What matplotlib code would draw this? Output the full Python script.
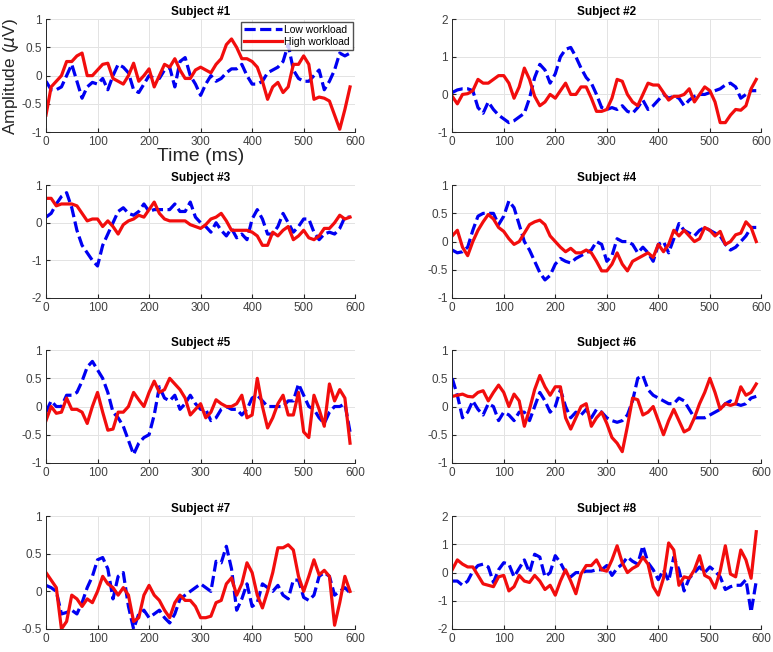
import matplotlib.pyplot as plt
import numpy as np

plt.rcParams['font.family'] = ['Liberation Sans', 'DejaVu Sans']

t = np.arange(0, 600, 10)

subjects = ['Subject #1', 'Subject #2', 'Subject #3', 'Subject #4',
            'Subject #5', 'Subject #6', 'Subject #7', 'Subject #8']

low = [
    [-0.1, -0.25, -0.25, -0.2, 0.0, 0.2, -0.1, -0.4, -0.2, -0.12, -0.15, -0.05, -0.25, 0.0, 0.2, 0.15, 0.05, -0.25, -0.3, -0.15,
     0.0, -0.05, -0.05, 0.1, 0.15, -0.2, 0.25, 0.32, 0.0, -0.15, -0.35, -0.15, 0.0, -0.1, -0.05, 0.05, 0.12, 0.12, 0.2, 0.0,
     -0.15, -0.15, -0.1, 0.05, 0.1, 0.15, 0.25, 0.55, 0.1, -0.05, -0.1, -0.1, 0.0, 0.1, -0.25, -0.1, 0.1, 0.4, 0.35, 0.4],
    [0.05, 0.12, 0.15, 0.15, 0.1, -0.35, -0.5, -0.2, -0.4, -0.55, -0.65, -0.75, -0.7, -0.6, -0.5, -0.1, 0.45, 0.8, 0.65, 0.3,
     0.55, 1.0, 1.2, 1.25, 1.0, 0.7, 0.45, 0.3, 0.0, -0.35, -0.4, -0.35, -0.4, -0.3, -0.45, -0.5, -0.35, -0.15, -0.4, -0.3,
     -0.15, 0.0, -0.1, -0.05, -0.1, -0.3, -0.15, -0.05, 0.0, 0.0, 0.05, 0.1, 0.15, 0.25, 0.3, 0.2, -0.1, 0.0, 0.1, 0.1],
    [0.15, 0.25, 0.5, 0.7, 0.8, 0.4, -0.2, -0.6, -0.8, -1.0, -1.15, -0.6, -0.3, 0.0, 0.3, 0.4, 0.25, 0.2, 0.3, 0.5,
     0.3, 0.35, 0.35, 0.35, 0.35, 0.5, 0.3, 0.3, 0.55, 0.15, 0.0, -0.1, -0.25, 0.0, -0.2, -0.35, -0.15, -0.4, -0.3, -0.45,
     0.1, 0.35, 0.1, -0.3, -0.3, -0.1, 0.25, 0.0, -0.25, -0.1, 0.1, 0.1, -0.25, -0.45, -0.3, -0.25, -0.3, -0.15, 0.15, 0.15],
    [-0.15, -0.2, -0.18, -0.1, 0.2, 0.45, 0.5, 0.5, 0.5, 0.3, 0.45, 0.72, 0.6, 0.3, 0.0, -0.15, -0.35, -0.55, -0.68, -0.6,
     -0.4, -0.3, -0.35, -0.38, -0.3, -0.25, -0.2, -0.15, 0.0, -0.05, -0.35, -0.25, 0.05, 0.0, 0.0, -0.05, -0.2, -0.1, -0.2, -0.35,
     -0.05, 0.0, -0.2, 0.05, 0.32, 0.2, 0.15, 0.1, 0.2, 0.25, 0.2, 0.15, 0.1, -0.05, -0.15, -0.1, 0.0, 0.1, 0.25, 0.25],
    [-0.1, 0.1, 0.0, 0.0, 0.2, 0.2, 0.25, 0.45, 0.7, 0.8, 0.65, 0.5, 0.25, -0.1, -0.2, -0.35, -0.6, -0.85, -0.65, -0.55,
     -0.5, -0.15, 0.35, 0.15, 0.1, 0.2, -0.05, 0.05, 0.2, 0.05, -0.05, -0.05, -0.25, -0.2, -0.05, 0.0, -0.05, -0.05, -0.15, -0.05,
     0.15, 0.2, 0.1, 0.0, 0.0, 0.0, 0.0, 0.1, 0.1, 0.4, 0.2, 0.0, -0.05, -0.2, -0.3, -0.1, 0.0, 0.0, 0.05, -0.45],
    [0.5, 0.2, -0.2, -0.1, 0.1, -0.05, -0.15, 0.05, 0.0, -0.25, -0.1, -0.15, -0.25, -0.1, -0.1, -0.25, 0.0, 0.25, 0.1, -0.1,
     0.0, 0.3, 0.0, -0.2, -0.1, -0.15, -0.05, -0.2, -0.05, -0.1, -0.2, -0.25, -0.28, -0.25, -0.15, 0.1, 0.5, 0.55, 0.3, 0.2,
     0.15, 0.1, 0.05, 0.05, 0.15, 0.1, -0.05, -0.2, -0.2, -0.2, -0.15, -0.1, -0.05, 0.05, 0.1, 0.05, 0.02, 0.05, 0.15, 0.18],
    [0.08, 0.05, 0.0, -0.3, -0.28, -0.25, -0.3, -0.15, 0.05, 0.2, 0.42, 0.45, 0.3, -0.1, 0.2, 0.25, -0.2, -0.5, -0.3, -0.25,
     -0.35, -0.3, -0.25, -0.35, -0.42, -0.3, -0.1, -0.05, 0.0, 0.05, 0.1, 0.05, 0.0, 0.4, 0.38, 0.6, 0.3, -0.25, -0.1, 0.1,
     -0.2, -0.15, 0.1, 0.05, 0.0, 0.08, -0.05, -0.1, 0.15, 0.15, -0.08, -0.12, -0.05, 0.2, 0.25, 0.2, -0.05, 0.0, 0.05, -0.02],
    [-0.3, -0.3, -0.45, -0.3, 0.05, 0.25, 0.3, 0.2, -0.35, 0.1, 0.35, 0.3, -0.15, 0.15, 0.45, 0.0, 0.65, 0.55, -0.15, 0.0,
     0.6, 0.35, 0.0, -0.15, 0.0, 0.0, 0.05, 0.05, 0.1, 0.1, 0.25, -0.1, 0.15, 0.3, 0.55, 0.4, 0.3, 0.95, 0.35, 0.1,
     -0.25, 0.1, -0.3, 0.55, 0.1, -0.65, -0.2, 0.0, 0.2, 0.0, 0.2, 0.05, -0.15, -0.6, -0.5, -0.45, -0.45, -0.25, -1.4, -0.3],
]

high = [
    [-0.7, -0.2, -0.1, 0.0, 0.25, 0.25, 0.35, 0.4, 0.0, 0.0, 0.1, 0.2, 0.22, -0.05, -0.1, -0.15, 0.0, 0.22, -0.1, 0.0,
     0.12, -0.2, 0.0, 0.2, 0.15, 0.3, 0.1, -0.05, -0.05, 0.1, 0.15, 0.1, 0.05, 0.2, 0.3, 0.55, 0.65, 0.5, 0.3, 0.3,
     0.25, 0.15, -0.1, -0.42, -0.2, -0.12, -0.3, -0.2, 0.2, 0.2, 0.35, 0.2, -0.42, -0.38, -0.4, -0.45, -0.7, -0.95, -0.6, -0.2],
    [-0.05, -0.25, 0.0, 0.02, 0.1, 0.4, 0.3, 0.3, 0.4, 0.5, 0.5, 0.3, -0.1, 0.2, 0.7, 0.4, -0.05, -0.3, -0.2, 0.0,
     -0.1, 0.1, 0.3, 0.0, 0.0, 0.2, 0.2, -0.1, -0.45, -0.45, -0.4, -0.1, 0.4, 0.35, 0.0, -0.2, -0.3, 0.0, 0.3, 0.25,
     0.25, 0.05, -0.15, -0.05, -0.05, 0.0, 0.15, -0.2, 0.0, 0.2, 0.1, -0.2, -0.75, -0.75, -0.55, -0.4, -0.42, -0.3, 0.15, 0.4],
    [0.65, 0.65, 0.45, 0.5, 0.5, 0.5, 0.45, 0.25, 0.05, 0.1, 0.1, -0.1, 0.05, -0.1, -0.3, -0.05, 0.05, 0.1, 0.2, 0.15,
     0.35, 0.55, 0.25, 0.1, 0.05, 0.05, 0.05, 0.05, -0.05, -0.1, -0.15, -0.05, 0.1, 0.15, 0.25, 0.05, -0.2, -0.2, -0.2, -0.2,
     -0.25, -0.35, -0.6, -0.6, -0.25, -0.35, -0.2, -0.1, -0.45, -0.35, -0.2, -0.4, -0.45, -0.35, -0.15, -0.15, 0.0, 0.2, 0.1, 0.15],
    [0.1, 0.2, -0.1, -0.25, 0.0, 0.2, 0.35, 0.48, 0.4, 0.25, 0.18, 0.05, -0.05, 0.0, 0.15, 0.3, 0.35, 0.38, 0.3, 0.1,
     0.0, -0.1, -0.18, -0.12, -0.2, -0.2, -0.15, -0.2, -0.35, -0.52, -0.52, -0.4, -0.2, -0.4, -0.52, -0.35, -0.3, -0.25, -0.2, -0.28,
     -0.05, -0.18, -0.05, 0.2, 0.1, 0.2, 0.1, 0.0, 0.05, 0.25, 0.2, 0.1, 0.18, -0.05, 0.0, 0.12, 0.15, 0.35, 0.25, 0.0],
    [-0.25, 0.0, -0.12, -0.1, 0.15, -0.05, -0.05, -0.1, -0.3, 0.0, 0.25, -0.1, -0.42, -0.4, -0.1, -0.1, 0.0, 0.25, 0.12, 0.0,
     0.25, 0.45, 0.25, 0.3, 0.5, 0.4, 0.3, 0.15, -0.15, -0.05, 0.05, -0.2, -0.1, 0.12, 0.05, 0.0, 0.0, 0.05, 0.2, -0.2,
     -0.15, 0.5, 0.0, -0.38, -0.2, 0.05, 0.2, -0.15, -0.15, 0.25, -0.45, -0.55, 0.2, -0.05, -0.35, 0.4, 0.1, 0.3, 0.15, -0.65],
    [0.18, 0.2, 0.22, 0.18, 0.17, 0.25, 0.28, 0.1, 0.25, 0.38, 0.25, 0.0, 0.22, 0.1, -0.35, -0.05, 0.3, 0.55, 0.35, 0.2,
     0.35, 0.35, -0.2, -0.4, -0.2, 0.0, 0.05, -0.35, -0.2, -0.1, -0.3, -0.55, -0.65, -0.8, -0.35, 0.15, 0.12, -0.15, -0.1, 0.0,
     -0.25, -0.5, -0.25, -0.05, -0.25, -0.45, -0.4, -0.2, 0.05, 0.25, 0.5, 0.25, -0.05, 0.05, 0.02, 0.05, 0.35, 0.2, 0.25, 0.4],
    [0.25, 0.15, 0.05, -0.5, -0.4, -0.05, -0.1, -0.2, -0.1, -0.15, 0.0, 0.2, 0.1, 0.05, -0.05, 0.05, -0.05, -0.4, -0.35, -0.05,
     0.08, -0.05, -0.12, -0.25, -0.35, -0.15, -0.05, -0.12, -0.12, -0.2, -0.35, -0.35, -0.33, -0.15, -0.12, 0.1, 0.18, -0.05, 0.1, 0.38,
     0.25, -0.05, -0.22, 0.0, 0.25, 0.58, 0.58, 0.62, 0.55, 0.2, 0.0, 0.2, 0.42, 0.22, 0.28, 0.2, -0.45, -0.15, 0.2, 0.0],
    [0.1, 0.45, 0.3, 0.2, 0.2, -0.1, -0.4, -0.45, -0.5, -0.15, -0.1, -0.65, -0.5, -0.1, -0.3, -0.35, -0.1, -0.3, -0.6, -0.45,
     -0.8, -0.3, 0.1, -0.3, -0.75, -0.05, 0.25, 0.25, 0.45, 0.1, 0.05, 0.45, 0.95, 0.35, 0.0, 0.15, 0.25, 0.55, 0.3, -0.5,
     -0.8, -0.2, 1.05, 0.8, -0.45, -0.15, -0.2, 0.1, 0.6, -0.1, -0.2, -0.55, 0.05, 0.95, -0.05, -0.15, 0.8, 0.45, -0.2, 1.45],
]

ylims = [(-1, 1), (-1, 2), (-2, 1), (-1, 1), (-1, 1), (-1, 1), (-0.5, 1), (-2, 2)]
yticks = [[-1, -0.5, 0, 0.5, 1], [-1, 0, 1, 2], [-2, -1, 0, 1], [-1, -0.5, 0, 0.5, 1],
          [-1, -0.5, 0, 0.5, 1], [-1, -0.5, 0, 0.5, 1], [-0.5, 0, 0.5, 1], [-2, -1, 0, 1, 2]]

fig = plt.figure(figsize=(7.73, 6.52), dpi=100)

lefts = [0.0595, 0.585]
bottoms = [0.7975, 0.543, 0.290, 0.0353]
w, h = 0.400, 0.173

for i in range(8):
    ax = fig.add_axes([lefts[i % 2], bottoms[i // 2], w, h])
    ax.plot(t, low[i], color=(0, 0, 0.95), lw=2.3, ls='--', dashes=(3.5, 1.4), label='Low workload')
    ax.plot(t, high[i], color=(0.95, 0.05, 0.05), lw=2.3, label='High workload')
    ax.set_xlim(0, 600)
    ax.set_ylim(*ylims[i])
    ax.set_xticks(range(0, 601, 100))
    ax.set_yticks(yticks[i])
    ax.set_yticklabels([('%g' % v) for v in yticks[i]])
    ax.grid(True, color='#e3e3e3', lw=0.7)
    ax.set_axisbelow(True)
    ax.tick_params(direction='in', length=3, labelsize=8.5, colors='#262626', labelcolor='#404040', pad=3)
    for s in ['top', 'right']:
        ax.spines[s].set_visible(False)
    for s in ['left', 'bottom']:
        ax.spines[s].set_color('#262626')
        ax.spines[s].set_linewidth(0.7)
    ax.set_title(subjects[i], fontsize=8.5, fontweight='bold', pad=3)
    if i == 0:
        ax.set_xlabel('Time (ms)', fontsize=14, color='#262626', labelpad=0)
        ax.legend(loc='upper right', fontsize=7.5, frameon=True, fancybox=False,
                  edgecolor='#262626', handlelength=3.6, borderpad=0.3,
                  labelspacing=0.2, handletextpad=0.2, borderaxespad=0.25)

fig.text(11 / 773, 1 - 76 / 652, r'Amplitude ($\mu$V)', rotation=90, fontsize=12.5,
         color='#262626', ha='center', va='center')

fig.savefig('out.png', dpi=100)
